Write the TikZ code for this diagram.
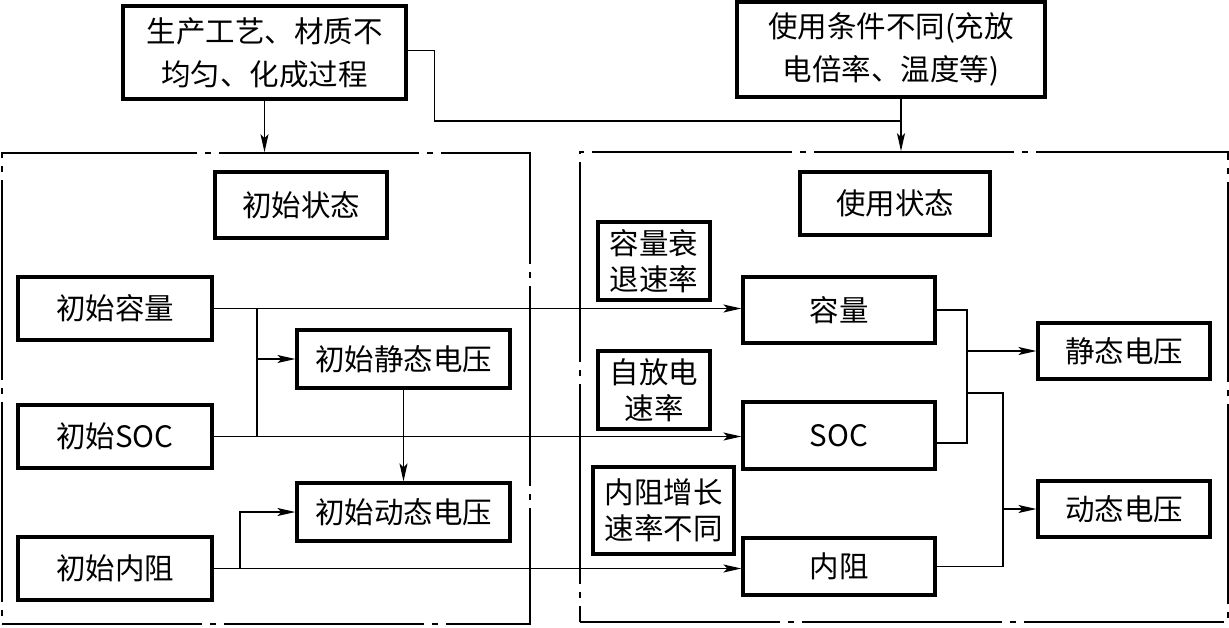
\documentclass[tikz,border=0pt]{standalone}
\usepackage{fontspec}
\setmainfont{Noto Sans CJK SC}
\usetikzlibrary{arrows.meta}
\begin{document}
\begin{tikzpicture}[x=1pt,y=-1pt,
  box/.style={draw,line width=3.2pt,inner sep=0pt,align=center,font=\fontsize{29.5}{43}\selectfont},
  tight/.style={font=\fontsize{29.5}{36}\selectfont},
  conn/.style={line width=1.5pt},
  arr/.style={conn,-{Stealth[length=18pt,width=8pt,inset=4pt]}},
  framebox/.style={draw,line width=1.6pt,inner sep=0pt,dash pattern=on 200pt off 8pt on 6pt off 8pt}]
\useasboundingbox (0,0) rectangle (1229,627);
% frames
\node[framebox,minimum width=528pt,minimum height=471pt] (F1) at (266,388.5) {};
\node[framebox,minimum width=648pt,minimum height=470pt] (F2) at (904,387) {};
% top boxes
\node[box,minimum width=283pt,minimum height=93pt] (mfg) at (264.5,52.5) {生产工艺、材质不\\均匀、化成过程};
\node[box,minimum width=308pt,minimum height=95pt] (use) at (891,49.5) {使用条件不同(充放\\电倍率、温度等)};
% left frame
\node[box,minimum width=172pt,minimum height=66pt] (st0) at (301,205) {初始状态};
\node[box,minimum width=194pt,minimum height=63pt] (ic) at (115,308.5) {初始容量};
\node[box,minimum width=213pt,minimum height=58pt] (isv) at (403.5,359) {初始静态电压};
\node[box,minimum width=194pt,minimum height=63pt] (isoc) at (115,436.5) {初始SOC};
\node[box,minimum width=213pt,minimum height=58pt] (idv) at (403.5,512) {初始动态电压};
\node[box,minimum width=194pt,minimum height=63pt] (ir) at (115,568.5) {初始内阻};
% right frame
\node[box,minimum width=190pt,minimum height=63pt] (st1) at (895,203.5) {使用状态};
\node[box,tight,minimum width=112pt,minimum height=78pt] (r1) at (654,261) {容量衰\\退速率};
\node[box,minimum width=192pt,minimum height=66pt] (cap) at (839,310) {容量};
\node[box,tight,minimum width=112pt,minimum height=78pt] (r2) at (654,390) {自放电\\速率};
\node[box,minimum width=192pt,minimum height=67pt] (soc) at (839,435.5) {SOC};
\node[box,tight,minimum width=141pt,minimum height=87pt] (r3) at (663.5,510.5) {内阻增长\\速率不同};
\node[box,minimum width=192pt,minimum height=57pt] (res) at (839,566.5) {内阻};
\node[box,minimum width=172pt,minimum height=56pt] (sv) at (1124,351) {静态电压};
\node[box,minimum width=172pt,minimum height=56pt] (dv) at (1124,509) {动态电压};
% top connectors
\draw[arr] (mfg.south) -- (mfg.south |- F1.north);
\draw[arr] ([xshift=10pt]use.south) -- ([xshift=10pt]use.south |- F2.north);
\draw[conn] ([yshift=2pt]mfg.east) -- ++(27,0) coordinate (t1) |- ([xshift=10pt]use.south |- 0,121) coordinate (t2);
% left connectors
\coordinate (j1) at (ic.east -| 257,0);
\coordinate (j2) at (isoc.east -| 257,0);
\draw[arr] (ic.east) -- (ic.east -| cap.west);
\draw[conn] (j1) -- (j2);
\draw[arr] (isv.west -| j1) -- (isv.west);
\draw[arr] (isoc.east) -- (isoc.east -| soc.west);
\draw[arr] (isv.south) -- (idv.north);
\draw[arr] (ir.east) -- (ir.east -| res.west);
\coordinate (j3) at (ir.east -| 240,0);
\draw[arr] (j3) |- (idv.west);
% right connectors
\coordinate (k1) at (cap.east -| 967,0);
\draw[conn] (cap.east) -- (k1) |- ([yshift=-7.5pt]soc.east);
\draw[arr] (sv.west -| k1) -- (sv.west);
\coordinate (k2) at (967,393);
\coordinate (k3) at (1003,393);
\draw[conn] (k2) -- (k3) |- (res.east);
\draw[arr] (dv.west -| k3) -- (dv.west);
\end{tikzpicture}
\end{document}
